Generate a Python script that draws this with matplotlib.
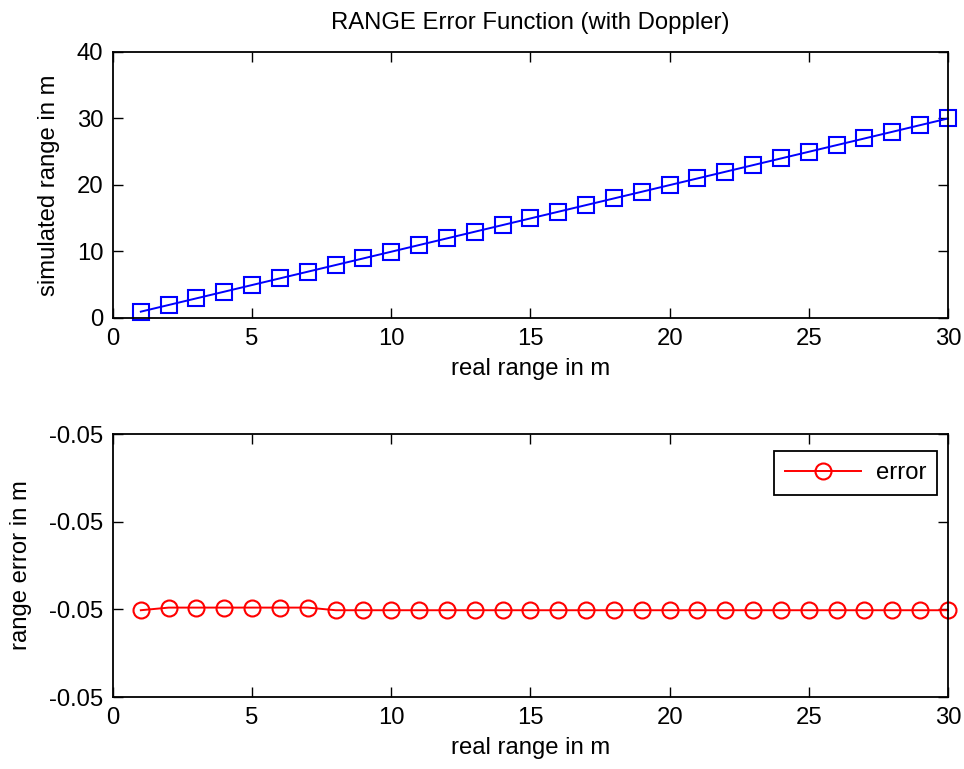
import matplotlib
matplotlib.use("Agg")
import matplotlib.pyplot as plt
import numpy as np
from matplotlib.ticker import FormatStrFormatter

plt.rcParams['font.family'] = ['Liberation Sans', 'DejaVu Sans']

real_range = list(range(1, 31))
range_error = [-0.050201] + [-0.050198] * 6 + [-0.050201] * 23
simulated_range = [r + e for r, e in zip(real_range, range_error)]

x_ticks = [0, 5, 10, 15, 20, 25, 30]
top_y_ticks = [0, 10, 20, 30, 40]
bot_y_ticks = [-0.0503, -0.0502, -0.0501, -0.0500]

FS = 17.2
fig = plt.figure(figsize=(9.64, 7.69), dpi=100)
ax1 = fig.add_axes([0.1172, 0.5865, 0.8662, 0.3465])
ax2 = fig.add_axes([0.1172, 0.0936, 0.8662, 0.3420])

for ax in (ax1, ax2):
    ax.tick_params(direction='in', top=True, right=True, length=7, width=1,
                   labelsize=FS, pad=7)
    for s in ax.spines.values():
        s.set_linewidth(1.3)
    ax.set_xlim(0, 30)
    ax.set_xticks(x_ticks)
    ax.set_xlabel('real range in m', fontsize=FS, labelpad=6)

ax1.plot(real_range, simulated_range, color='#0000ff', marker='s', markersize=12,
         markerfacecolor='none', markeredgewidth=1.5, linewidth=1.4, clip_on=False)
ax1.set_ylim(0, 40)
ax1.set_yticks(top_y_ticks)
ax1.set_ylabel('simulated range in m', fontsize=FS, labelpad=12)
ax1.set_title('RANGE Error Function (with Doppler)', fontsize=FS, pad=16)

ax2.plot(real_range, range_error, color='#ff0000', marker='o', markersize=11.5,
         markerfacecolor='none', markeredgewidth=1.5, linewidth=1.4, label='error',
         clip_on=False)
ax2.set_ylim(-0.0503, -0.0500)
ax2.set_yticks(bot_y_ticks)
ax2.yaxis.set_major_formatter(FormatStrFormatter('%.2f'))
ax2.set_ylabel('range error in m', fontsize=FS, labelpad=12)
leg = ax2.legend(loc='upper right', bbox_to_anchor=(0.9868, 0.935), fontsize=FS,
                 fancybox=False, framealpha=1, edgecolor='black', borderaxespad=0,
                 handlelength=3.2, borderpad=0.45, handletextpad=0.6)
leg.get_frame().set_linewidth(1.3)

fig.savefig('out.png', dpi=100)
